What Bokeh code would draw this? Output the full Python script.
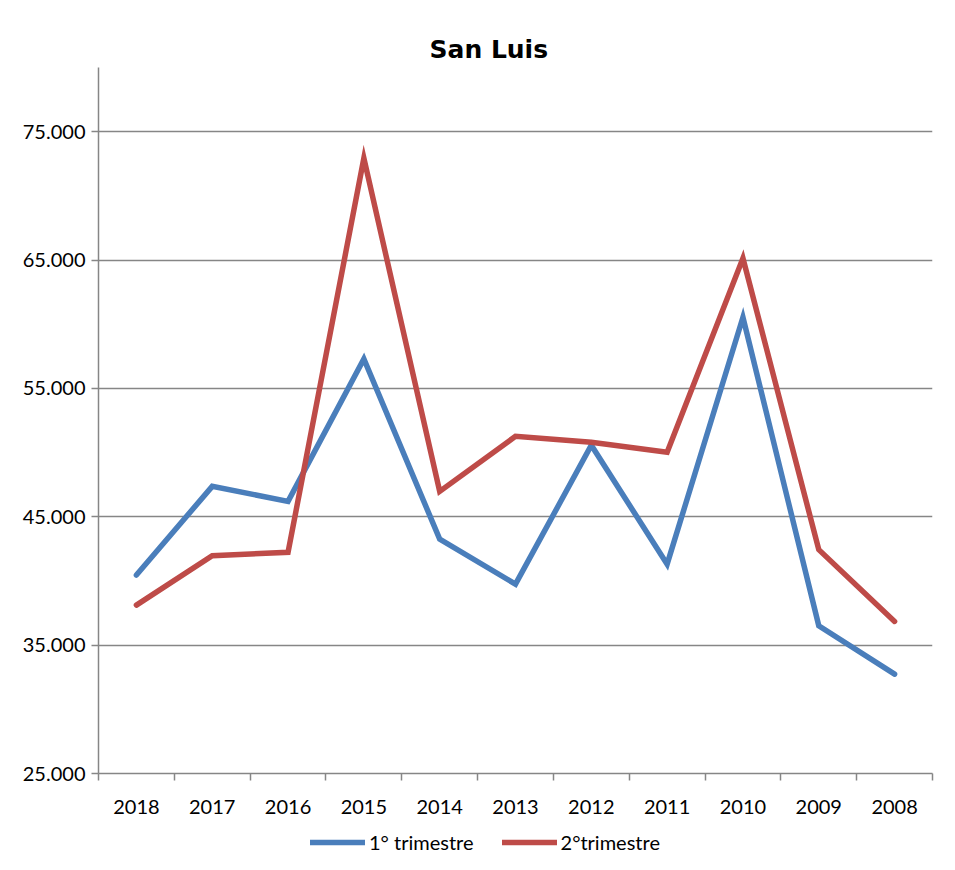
from bokeh.plotting import figure
from bokeh.layouts import column
from bokeh.models import (ColumnDataSource, Range1d, FixedTicker, Legend, LegendItem)
from bokeh.embed import file_html
from bokeh.resources import INLINE

# ---- data ----
years = ["2018", "2017", "2016", "2015", "2014", "2013", "2012", "2011", "2010", "2009", "2008"]
trim1 = [40460, 47370, 46200, 57290, 43260, 39750, 50570, 41310, 60540, 36510, 32740]
trim2 = [38120, 41970, 42230, 72930, 46980, 51270, 50800, 50020, 65140, 42440, 36850]
y_ticks = [25000, 35000, 45000, 55000, 65000, 75000]
y_tick_labels = ["25.000", "35.000", "45.000", "55.000", "65.000", "75.000"]
series_names = ["1° trimestre", "2°trimestre"]
title_text = "San Luis"

x_centers = [i + 0.5 for i in range(len(years))]
x_bounds = [float(i) for i in range(len(years) + 1)]

src = ColumnDataSource(dict(x=x_centers, t1=trim1, t2=trim2, year=years))

FONT = "Lato"
GRAY = "#868686"
BLUE = "#4A7EBB"
RED = "#BE4B48"

p = figure(width=939, height=824, output_backend="svg", toolbar_location=None,
           x_range=Range1d(0, len(years)), y_range=Range1d(25000, 80000),
           min_border_left=98, min_border_right=7, min_border_top=67, min_border_bottom=51)
p.outline_line_color = None
p.background_fill_color = "white"
p.border_fill_color = "white"

# title
p.title.text = title_text
p.title.text_font = "DejaVu Sans"
p.title.text_font_style = "bold"
p.title.text_font_size = "25px"
p.title.text_color = "#000000"
p.title.align = "left"
p.title.offset = 331
p.title.standoff = 8

# lines
r1 = p.line("x", "t1", source=src, line_color=BLUE, line_width=5.5, line_join="miter", line_cap="round")
r2 = p.line("x", "t2", source=src, line_color=RED, line_width=5.5, line_join="miter", line_cap="round")

# x axis
xa = p.xaxis[0]
xa.ticker = FixedTicker(ticks=x_centers, minor_ticks=x_bounds)
xa.major_label_overrides = {x: y for x, y in zip(x_centers, years)}
xa.major_tick_line_color = None
xa.major_tick_out = 0
xa.major_tick_in = 0
xa.minor_tick_line_color = GRAY
xa.minor_tick_line_width = 1.5
xa.minor_tick_out = 7
xa.minor_tick_in = 0
xa.axis_line_color = GRAY
xa.axis_line_width = 1.5
xa.major_label_standoff = 19
xa.major_label_text_font = FONT
xa.major_label_text_font_size = "20px"
xa.major_label_text_color = "#000000"

# y axis
ya = p.yaxis[0]
ya.ticker = FixedTicker(ticks=y_ticks, minor_ticks=[])
ya.major_label_overrides = {t: l for t, l in zip(y_ticks, y_tick_labels)}
ya.major_tick_line_color = GRAY
ya.major_tick_line_width = 1.5
ya.major_tick_out = 7
ya.major_tick_in = 0
ya.minor_tick_line_color = None
ya.axis_line_color = GRAY
ya.axis_line_width = 1.5
ya.major_label_standoff = 6
ya.major_label_text_font = FONT
ya.major_label_text_font_size = "20px"
ya.major_label_text_color = "#000000"

p.xgrid.grid_line_color = None
p.ygrid.grid_line_color = GRAY
p.ygrid.grid_line_width = 1.5
p.ygrid.ticker = FixedTicker(ticks=y_ticks[1:], minor_ticks=[])

# legend strip below the chart (no axes; legend keys only)
nan = float("nan")
leg_src = ColumnDataSource(dict(x=[nan], y=[nan]))
p2 = figure(width=939, height=32, output_backend="svg", toolbar_location=None,
            x_range=Range1d(0, 1), y_range=Range1d(0, 1),
            x_axis_type=None, y_axis_type=None,
            min_border=0, min_border_left=0, min_border_right=0,
            min_border_top=0, min_border_bottom=0)
p2.grid.grid_line_color = None
p2.outline_line_color = None
p2.background_fill_color = "white"
p2.border_fill_color = "white"
lr1 = p2.line("x", "y", source=leg_src, line_color=BLUE, line_width=5.5, line_cap="round")
lr2 = p2.line("x", "y", source=leg_src, line_color=RED, line_width=5.5, line_cap="round")

legend = Legend(items=[LegendItem(label=series_names[0], renderers=[lr1]),
                       LegendItem(label=series_names[1], renderers=[lr2])],
                orientation="horizontal", location=(212, 2))
legend.label_text_font = FONT
legend.label_text_font_size = "20px"
legend.label_text_color = "#000000"
legend.glyph_width = 55
legend.glyph_height = 20
legend.label_standoff = 4
legend.spacing = 28
legend.padding = 2
legend.margin = 0
legend.border_line_color = None
legend.background_fill_alpha = 0
p2.add_layout(legend)

layout = column(p, p2, spacing=0)
open("out.html", "w").write(file_html(layout, INLINE))
